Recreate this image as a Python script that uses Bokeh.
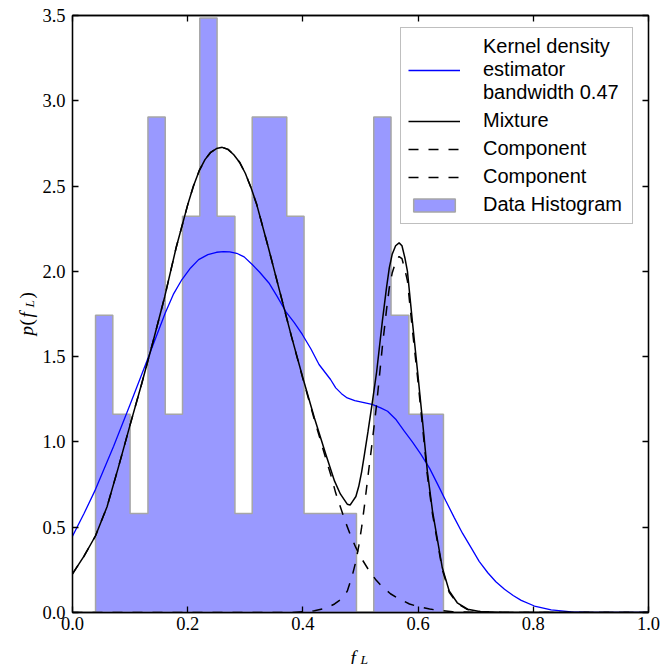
import math
from bokeh.plotting import figure
from bokeh.layouts import row, column
from bokeh.models import (Range1d, LinearAxis, FixedTicker, Legend, LegendItem,
                          Label, PrintfTickFormatter)
from bokeh.embed import file_html
from bokeh.resources import INLINE

# ---------------- data ----------------
bin_edges = [0.040, 0.070, 0.100, 0.131, 0.161, 0.191, 0.221, 0.251, 0.282, 0.312,
             0.342, 0.372, 0.402, 0.433, 0.463, 0.493, 0.523, 0.553, 0.584, 0.614, 0.644]
bin_counts = [3, 2, 1, 5, 2, 4, 6, 4, 1, 5, 5, 4, 1, 1, 1, 0, 5, 3, 2, 2]

kde_x = [0.0, 0.02, 0.04, 0.0714, 0.10, 0.129, 0.161, 0.175, 0.19, 0.205, 0.219, 0.235,
         0.25, 0.262, 0.273, 0.285, 0.298, 0.312, 0.325, 0.341, 0.355, 0.37, 0.385, 0.399,
         0.414, 0.428, 0.448, 0.457, 0.467, 0.477, 0.49, 0.50, 0.52, 0.535, 0.547, 0.562,
         0.576, 0.59, 0.605, 0.62, 0.634, 0.648, 0.663, 0.677, 0.692, 0.706, 0.721, 0.735,
         0.75, 0.765, 0.779, 0.802, 0.831, 0.866, 0.90, 1.0]
kde_y = [0.448, 0.58, 0.722, 0.975, 1.22, 1.473, 1.756, 1.865, 1.952, 2.02, 2.069, 2.098,
         2.112, 2.116, 2.114, 2.106, 2.085, 2.04, 1.995, 1.932, 1.855, 1.766, 1.70, 1.63,
         1.545, 1.454, 1.366, 1.317, 1.283, 1.258, 1.242, 1.235, 1.22, 1.20, 1.18, 1.13,
         1.063, 1.0, 0.927, 0.845, 0.751, 0.655, 0.555, 0.465, 0.38, 0.30, 0.233, 0.18,
         0.136, 0.10, 0.071, 0.038, 0.015, 0.004, 0.001, 0.0]

mix_x = [0.0, 0.02, 0.04, 0.06, 0.08, 0.10, 0.12, 0.14, 0.16, 0.18, 0.20, 0.21, 0.22, 0.23,
         0.24, 0.25, 0.26, 0.27, 0.28, 0.29, 0.30, 0.31, 0.32, 0.34, 0.36, 0.38, 0.40, 0.42,
         0.44, 0.455, 0.465, 0.472, 0.477, 0.482, 0.486, 0.492, 0.497, 0.502, 0.507, 0.513,
         0.52, 0.528, 0.538, 0.545, 0.55, 0.555, 0.561, 0.567, 0.572, 0.577, 0.5815, 0.59,
         0.599, 0.6077, 0.616, 0.625, 0.634, 0.642, 0.654, 0.668, 0.686, 0.709, 0.75, 1.0]
mix_y = [0.227, 0.33, 0.45, 0.62, 0.855, 1.10, 1.34, 1.59, 1.85, 2.14, 2.39, 2.50, 2.59,
         2.655, 2.698, 2.72, 2.727, 2.715, 2.684, 2.64, 2.575, 2.49, 2.39, 2.14, 1.88, 1.62,
         1.375, 1.14, 0.925, 0.77, 0.695, 0.66, 0.635, 0.63, 0.65, 0.68, 0.74, 0.825, 0.93,
         1.06, 1.22, 1.41, 1.71, 1.90, 2.02, 2.10, 2.15, 2.167, 2.15, 2.08, 2.0, 1.708,
         1.415, 1.122, 0.829, 0.595, 0.419, 0.262, 0.126, 0.057, 0.019, 0.005, 0.0, 0.0]

comp1_x = [0.0, 0.02, 0.04, 0.06, 0.08, 0.10, 0.12, 0.14, 0.16, 0.18, 0.20, 0.21, 0.22, 0.23,
           0.24, 0.25, 0.26, 0.27, 0.28, 0.29, 0.30, 0.31, 0.32, 0.34, 0.36, 0.38, 0.40, 0.42,
           0.44, 0.449, 0.457, 0.466, 0.474, 0.483, 0.492, 0.503, 0.515, 0.527, 0.538, 0.552,
           0.567, 0.585, 0.60, 0.62, 0.64, 0.66, 0.70, 0.75, 1.0]
comp1_y = [0.227, 0.33, 0.45, 0.62, 0.855, 1.10, 1.34, 1.59, 1.85, 2.14, 2.39, 2.50, 2.59,
           2.655, 2.698, 2.72, 2.727, 2.715, 2.684, 2.64, 2.575, 2.49, 2.39, 2.14, 1.88, 1.62,
           1.37, 1.13, 0.90, 0.80, 0.70, 0.61, 0.53, 0.45, 0.38, 0.31, 0.245, 0.19, 0.15,
           0.11, 0.08, 0.05, 0.035, 0.02, 0.011, 0.005, 0.001, 0.0, 0.0]

comp2_x = [0.0, 0.38, 0.40, 0.42, 0.44, 0.455, 0.465, 0.472, 0.477, 0.486, 0.492, 0.497,
           0.502, 0.507, 0.513, 0.52, 0.528, 0.538, 0.545, 0.55, 0.555, 0.561, 0.567, 0.572,
           0.577, 0.5815, 0.59, 0.599, 0.6077, 0.616, 0.625, 0.634, 0.642, 0.654, 0.668,
           0.686, 0.709, 0.75, 1.0]
comp2_y = [0.0, 0.0, 0.004, 0.01, 0.025, 0.05, 0.075, 0.10, 0.125, 0.22, 0.30, 0.39,
           0.50, 0.63, 0.80, 0.99, 1.22, 1.56, 1.77, 1.905, 1.99, 2.055, 2.087, 2.075,
           2.01, 1.945, 1.66, 1.38, 1.09, 0.806, 0.577, 0.405, 0.252, 0.119, 0.053,
           0.017, 0.004, 0.0, 0.0]

x_ticks = [0.0, 0.2, 0.4, 0.6, 0.8, 1.0]
y_ticks = [0.0, 0.5, 1.0, 1.5, 2.0, 2.5, 3.0, 3.5]

# ---------------- histogram as a filled step outline ----------------
n_total = sum(bin_counts)
bin_w = (bin_edges[-1] - bin_edges[0]) / len(bin_counts)
step_x, step_y = [bin_edges[0]], [0.0]
for i, c in enumerate(bin_counts):
    d = c / (n_total * bin_w)
    step_x += [bin_edges[i], bin_edges[i + 1]]
    step_y += [d, d]
step_x.append(bin_edges[-1])
step_y.append(0.0)

# ---------------- layout sizes ----------------
YLAB_W = 38
MAIN_W = 663 - YLAB_W
MAIN_H = 638
BOTTOM_BORDER = 26
XLAB_H = 664 - MAIN_H
FRAME_BOTTOM = MAIN_H - BOTTOM_BORDER   # bottom of the plotting frame, from page top

# ---------------- main figure ----------------
p = figure(width=MAIN_W, height=MAIN_H, x_range=Range1d(0, 1), y_range=Range1d(0, 3.5),
           output_backend="svg", toolbar_location=None,
           min_border_left=72 - YLAB_W, min_border_right=15, min_border_top=15,
           min_border_bottom=BOTTOM_BORDER)
p.grid.visible = False
p.outline_line_color = "black"
p.outline_line_width = 1.3
p.background_fill_color = "white"
p.border_fill_color = "white"

TICK_FONT = "Liberation Serif"


def style_axis(ax, show_labels=True, standoff=8):
    ax.axis_line_color = "black"
    ax.axis_line_width = 1.3
    ax.major_tick_line_color = "black"
    ax.major_tick_line_width = 1.3
    ax.major_tick_in = 6
    ax.major_tick_out = 0
    ax.minor_tick_in = 0
    ax.minor_tick_out = 0
    ax.minor_tick_line_color = None
    ax.major_label_text_font = TICK_FONT
    if show_labels:
        ax.major_label_text_color = "black"
        ax.major_label_text_font_size = "18.5px"
        ax.major_label_standoff = standoff
    else:
        ax.major_label_text_color = None
        ax.major_label_text_font_size = "1px"
        ax.major_label_standoff = 0
    ax.formatter = PrintfTickFormatter(format="%.1f")


p.xaxis.ticker = FixedTicker(ticks=x_ticks)
p.yaxis.ticker = FixedTicker(ticks=y_ticks)
style_axis(p.xaxis[0], True, 4)
style_axis(p.yaxis[0], True, 7)

top_ax = LinearAxis(ticker=FixedTicker(ticks=x_ticks))
style_axis(top_ax, False)
p.add_layout(top_ax, "above")
right_ax = LinearAxis(ticker=FixedTicker(ticks=y_ticks))
style_axis(right_ax, False)
p.add_layout(right_ax, "right")

hist_r = p.patch(step_x, step_y, fill_color="#9999ff", line_color="#a6a6a6", line_width=1.5)
kde_r = p.line(kde_x, kde_y, line_color="#0000ff", line_width=1.3)
mix_r = p.line(mix_x, mix_y, line_color="black", line_width=1.5)
c1_r = p.line(comp1_x, comp1_y, line_color="black", line_width=1.5, line_dash="10 10")
c2_r = p.line(comp2_x, comp2_y, line_color="black", line_width=1.5, line_dash="10 10")

legend = Legend(items=[
    LegendItem(label="Kernel density\nestimator\nbandwidth 0.47", renderers=[kde_r]),
    LegendItem(label="Mixture", renderers=[mix_r]),
    LegendItem(label="Component", renderers=[c1_r]),
    LegendItem(label="Component", renderers=[c2_r]),
    LegendItem(label="Data Histogram", renderers=[hist_r]),
], location=(328, 388))
legend.label_text_font = "Liberation Sans"
legend.label_text_font_size = "20px"
legend.label_text_color = "black"
legend.label_text_line_height = 1.1
legend.glyph_width = 52
legend.glyph_height = 16
legend.label_standoff = 23
legend.label_height = 22
legend.label_width = 142
legend.padding = 7
legend.spacing = 5
legend.margin = 0
legend.border_line_color = "#808080"
legend.border_line_width = 1.3
legend.background_fill_color = "white"
legend.background_fill_alpha = 1.0
p.add_layout(legend)

# ---------------- axis-label panels (italic serif with subscript) ----------------
AX_FONT = "Liberation Serif"
MAIN_SIZE = "19px"
SUB_SIZE = "13.5px"


def label_panel(w, h):
    f = figure(width=w, height=h, x_range=Range1d(0, 1), y_range=Range1d(0, 1),
               output_backend="svg", toolbar_location=None,
               x_axis_type=None, y_axis_type=None,
               min_border_left=0, min_border_right=0, min_border_top=0, min_border_bottom=0)
    f.grid.visible = False
    f.outline_line_color = None
    f.background_fill_color = "white"
    f.border_fill_color = "white"
    return f


def piece(fig, x, y, text, size, italic=True, angle=0.0):
    # screen units: measured upward from the bottom of the strip's frame
    fig.add_layout(Label(x=x, y=y, x_units="screen", y_units="screen", text=text,
                         text_font=AX_FONT, text_font_style="italic" if italic else "normal",
                         text_font_size=size, text_color="black",
                         text_baseline="alphabetic", text_align="left", angle=angle))


# x label  f_L   (strip bottom = page bottom)
xlab = label_panel(663, XLAB_H)
piece(xlab, 350, 7.0, "f", MAIN_SIZE)
piece(xlab, 360, 5.0, "L", SUB_SIZE)

# y label  p(f_L), rotated; the strip's frame is aligned with the main frame
ylab = label_panel(YLAB_W, MAIN_H)
rot = math.pi / 2
piece(ylab, 26, FRAME_BOTTOM - 335, "p", MAIN_SIZE, True, rot)
piece(ylab, 26, FRAME_BOTTOM - 325, "(", MAIN_SIZE, False, rot)
piece(ylab, 26, FRAME_BOTTOM - 317, "f", MAIN_SIZE, True, rot)
piece(ylab, 29, FRAME_BOTTOM - 307, "L", SUB_SIZE, True, rot)
piece(ylab, 26, FRAME_BOTTOM - 298, ")", MAIN_SIZE, False, rot)

layout = column(row(ylab, p, spacing=0), xlab, spacing=0)

open("out.html", "w").write(file_html(layout, INLINE))
